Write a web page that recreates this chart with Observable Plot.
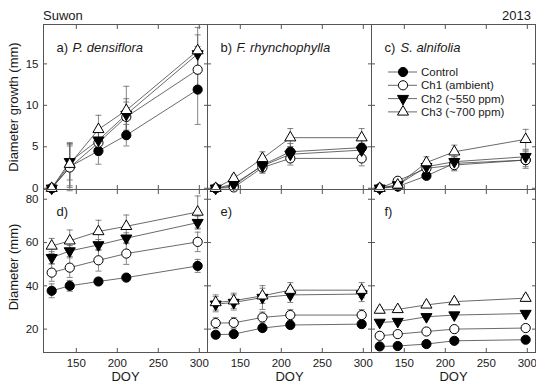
<!DOCTYPE html>
<html><head><meta charset="utf-8">
<script src="https://cdn.jsdelivr.net/npm/d3@7"></script>
<script src="https://cdn.jsdelivr.net/npm/@observablehq/plot@0.6"></script>
<style>
body{margin:0;background:#fff;}
#wrap{position:relative;width:536px;height:385px;font-family:"Liberation Sans",Arial,sans-serif;color:#1a1a1a;overflow:hidden;background:#fff}
#wrap > * {position:absolute}
</style></head><body><div id="wrap"></div>
<script>
// ---- data ----
const doy = [120, 142, 177, 211, 298];
const species = ["P. densiflora", "F. rhynchophylla", "S. alnifolia"];
const labelsTop = ["a)", "b)", "c)"];
const labelsBottom = ["d)", "e)", "f)"];
const treatments = ["Control", "Ch1 (ambient)", "Ch2 (~550 ppm)", "Ch3 (~700 ppm)"];
const xTicks = [150, 200, 250, 300];
const growthTicks = [0, 5, 10, 15];
const diameterTicks = [20, 40, 60, 80];

// diameter growth (mm): rows = Control, Ch1, Ch2, Ch3
const growthPd = [[0, 2.6, 4.5, 6.4, 11.9], [0, 2.5, 5.5, 8.6, 14.3], [0, 3.2, 5.8, 8.9, 16.2], [0, 2.9, 7.1, 9.4, 16.6]];
const growthPdErr = [[0.3, 2.5, 1.6, 1.3, 4.2], [0.3, 2.8, 1.5, 1.8, 2.8], [0.2, 2.2, 1.5, 1.9, 2.3], [0.2, 2.6, 1.7, 2.9, 2.8]];
const growthFr = [[0, 0.3, 2.8, 4.4, 4.9], [0, 0.1, 2.5, 3.6, 3.6], [0, 0.5, 2.7, 4.1, 4.6], [0, 1.2, 3.6, 6.1, 6.1]];
const growthFrErr = [[0.1, 0.3, 0.8, 1.0, 1.0], [0.1, 0.2, 0.7, 0.8, 0.9], [0.1, 0.3, 0.7, 0.9, 0.8], [0.1, 0.4, 0.8, 1.1, 1.1]];
const growthSa = [[0, 0.2, 1.5, 3.0, 3.4], [0, 0.9, 2.4, 2.8, 3.4], [0, 0.4, 2.6, 3.2, 3.8], [0, 0.4, 3.1, 4.4, 5.9]];
const growthSaErr = [[0.1, 0.3, 0.4, 0.8, 1.0], [0.1, 0.4, 0.6, 0.7, 0.8], [0.1, 0.3, 0.6, 0.6, 0.8], [0.1, 0.4, 0.7, 0.8, 1.2]];

// diameter (mm)
const diamPd = [[37.7, 40.0, 42.0, 43.8, 49.2], [46.1, 48.4, 51.8, 54.9, 60.3], [53.0, 56.1, 58.9, 62.0, 69.2], [58.4, 60.8, 65.1, 67.5, 74.1]];
const diamPdErr = [[3.2, 2.5, 1.5, 1.5, 3.0], [4.0, 4.5, 5.0, 5.0, 4.5], [2.8, 2.5, 2.5, 2.5, 3.0], [3.5, 5.0, 5.2, 5.2, 7.4]];
const diamFr = [[17.4, 17.7, 20.5, 21.9, 22.3], [22.8, 22.9, 25.4, 26.5, 26.5], [31.5, 32.3, 34.6, 35.8, 36.2], [32.3, 33.1, 35.4, 38.0, 38.0]];
const diamFrErr = [[1.5, 1.5, 1.2, 1.2, 1.2], [2.5, 2.5, 2.5, 2.5, 2.5], [3.5, 3.5, 5.5, 3.5, 3.5], [3.5, 3.5, 3.5, 3.5, 3.5]];
const diamSa = [[12.0, 12.2, 13.1, 14.6, 15.1], [16.9, 17.7, 18.9, 20.0, 20.5], [23.1, 23.5, 25.7, 26.5, 27.2], [28.8, 29.1, 31.2, 32.7, 34.3]];
const diamSaErr = [[0.8, 0.8, 0.8, 0.8, 0.8], [1, 1, 1, 1, 1], [1, 1, 1, 1, 1], [1.2, 1.2, 1.2, 1.2, 1.5]];

// ---- build tables ----
function table(valsBySp, errsBySp) {
  const out = [];
  species.forEach((sp, s) => treatments.forEach((trt, t) => doy.forEach((d, i) => {
    out.push({sp, trt, t, doy: d, v: valsBySp[s][t][i], e: errsBySp[s][t][i]});
  })));
  return out;
}
const growthData = table([growthPd, growthFr, growthSa], [growthPdErr, growthFrErr, growthSaErr]);
const diamData = table([diamPd, diamFr, diamSa], [diamPdErr, diamFrErr, diamSaErr]);

// ---- symbols ----
const sqrt3 = Math.sqrt(3);
const triDown = {draw(ctx, size) {
  const y = -Math.sqrt(size / (sqrt3 * 3));
  ctx.moveTo(0, -y * 2); ctx.lineTo(-sqrt3 * y, y); ctx.lineTo(sqrt3 * y, y); ctx.closePath();
}};
const capSym = {draw(ctx) { ctx.moveTo(-3, 0); ctx.lineTo(3, 0); }};
const styles = [
  {symbol: "circle", fill: "#000", r: 4.6},
  {symbol: "circle", fill: "#fff", r: 4.6},
  {symbol: triDown, fill: "#000", r: 4.1},
  {symbol: "triangle", fill: "#fff", r: 4.1}
];

const FONT = "'Liberation Sans', Arial, sans-serif";
const wrap = document.getElementById("wrap");

function row({data, yDomain, yTicks, yLabel, yLabelDy, height, marginTop, marginBottom, panelLabels, labelDy, xLabels}) {
  const marks = [
    Plot.frame({stroke: "#555"}),
    Plot.axisY(yTicks, {anchor: "left", tickSize: 0, tickPadding: 5, label: null, fontSize: 11.5}),
    Plot.axisY(yTicks, {anchor: "left", tickSize: -4, tickFormat: () => "", label: null, facetAnchor: null, stroke: "#555"}),
    Plot.axisY(yTicks, {anchor: "right", tickSize: -4, tickFormat: () => "", label: null, facetAnchor: null, stroke: "#555"}),
    Plot.axisX(xTicks, {anchor: "bottom", tickSize: -4, tickFormat: () => "", label: null, facetAnchor: null, stroke: "#555"}),
    Plot.axisX(xTicks, {anchor: "top", tickSize: -4, tickFormat: () => "", label: null, facetAnchor: null, stroke: "#555"}),
    Plot.text([{sp: species[0], t: yLabel}], {fx: "sp", text: "t", frameAnchor: "left", textAnchor: "middle", lineAnchor: "middle", rotate: -90, dx: -30, dy: yLabelDy, fontSize: 13, fill: "#1a1a1a"}),
    Plot.text(species.map((sp, i) => ({sp, t: panelLabels[i]})), {fx: "sp", text: "t", frameAnchor: "top-left", textAnchor: "start", dx: 13, dy: labelDy, fontSize: 13, fill: "#1a1a1a"}),
    Plot.line(data, {x: "doy", y: "v", z: "trt", fx: "sp", stroke: "#444", strokeWidth: 0.8}),
    Plot.ruleX(data, {x: "doy", y1: d => d.v - d.e, y2: d => d.v + d.e, fx: "sp", stroke: "#666", strokeWidth: 0.8}),
    Plot.dot(data, {x: "doy", y: d => d.v + d.e, fx: "sp", symbol: capSym, stroke: "#666", strokeWidth: 0.8, r: 2}),
    Plot.dot(data, {x: "doy", y: d => d.v - d.e, fx: "sp", symbol: capSym, stroke: "#666", strokeWidth: 0.8, r: 2})
  ];
  if (panelLabels === labelsTop) {
    marks.push(Plot.text(species.map(sp => ({sp})), {fx: "sp", text: "sp", frameAnchor: "top-left", textAnchor: "start", dx: 29, dy: labelDy, fontSize: 13, fontStyle: "italic", fill: "#1a1a1a"}));
  }
  styles.forEach((st, t) => {
    marks.push(Plot.dot(data.filter(d => d.t === t), {x: "doy", y: "v", fx: "sp", symbol: st.symbol, r: st.r, fill: st.fill, stroke: "#000", strokeWidth: 1}));
  });
  if (xLabels) {
    marks.push(Plot.axisX(xTicks, {anchor: "bottom", tickSize: 0, tickPadding: 6, label: null, fontSize: 11.5}));
    marks.push(Plot.text(["DOY"], {frameAnchor: "bottom", dy: 28, fontSize: 13, fill: "#1a1a1a"}));
  }
  return Plot.plot({
    width: 536, height, marginLeft: 43, marginRight: 1, marginTop, marginBottom,
    style: {fontFamily: FONT, fontSize: "12px", color: "#1a1a1a", background: "transparent", overflow: "visible"},
    fx: {domain: species, padding: 0, axis: null},
    x: {domain: [110, 310]},
    y: {domain: yDomain},
    marks
  });
}

const topRow = row({data: growthData, yDomain: [-0.15, 19.75], yTicks: growthTicks, yLabel: "Diameter growth (mm)", yLabelDy: 0,
  height: 190, marginTop: 24, marginBottom: 1, panelLabels: labelsTop, labelDy: 18.5, xLabels: false});
topRow.style.top = "0px"; topRow.style.left = "0px";
wrap.appendChild(topRow);

const bottomRow = row({data: diamData, yDomain: [9.2, 84.5], yTicks: diameterTicks, yLabel: "Diameter (mm)", yLabelDy: -4,
  height: 197, marginTop: 1, marginBottom: 33, panelLabels: labelsBottom, labelDy: 17, xLabels: true});
bottomRow.style.top = "188px"; bottomRow.style.left = "0px";
wrap.appendChild(bottomRow);

// header texts
const hdr = (txt, css) => { const d = document.createElement("div"); d.textContent = txt; d.style.cssText = css; wrap.appendChild(d); };
hdr("Suwon", "left:43px;top:8px;font-size:13px;line-height:16px;");
hdr("2013", "right:5px;top:8px;font-size:13px;line-height:16px;");

// legend (inside panel c)
const ns = "http://www.w3.org/2000/svg";
const leg = document.createElementNS(ns, "svg");
leg.setAttribute("width", 150); leg.setAttribute("height", 70);
leg.style.left = "385px"; leg.style.top = "62px";
treatments.forEach((trt, t) => {
  const y = 10 + t * 13.3;
  const g = document.createElementNS(ns, "g");
  const ln = document.createElementNS(ns, "line");
  ln.setAttribute("x1", 3); ln.setAttribute("x2", 32); ln.setAttribute("y1", y); ln.setAttribute("y2", y);
  ln.setAttribute("stroke", "#444"); ln.setAttribute("stroke-width", 0.8);
  g.appendChild(ln);
  const p = document.createElementNS(ns, "path");
  const st = styles[t];
  const sym = typeof st.symbol === "string" ? (st.symbol === "circle" ? d3.symbolCircle : d3.symbolTriangle) : st.symbol;
  p.setAttribute("d", d3.symbol(sym, Math.PI * st.r * st.r)());
  p.setAttribute("transform", `translate(18,${y})`);
  p.setAttribute("fill", st.fill); p.setAttribute("stroke", "#000");
  g.appendChild(p);
  const tx = document.createElementNS(ns, "text");
  tx.setAttribute("x", 36); tx.setAttribute("y", y); tx.setAttribute("dy", "0.35em");
  tx.setAttribute("font-size", 11.5); tx.setAttribute("font-family", FONT); tx.setAttribute("fill", "#1a1a1a");
  tx.textContent = trt;
  g.appendChild(tx);
  leg.appendChild(g);
});
wrap.appendChild(leg);
</script></body></html>
